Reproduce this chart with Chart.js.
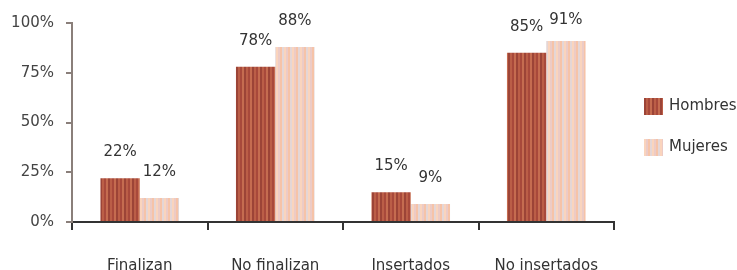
<!DOCTYPE html>
<html>
<head>
<meta charset="utf-8">
<script src="https://cdn.jsdelivr.net/npm/chart.js@4"></script>
<style>
  html, body { margin: 0; padding: 0; background: #fff; }
  #wrap { width: 737px; height: 270px; position: relative; }
</style>
</head>
<body>
<div id="wrap"><canvas id="chart"></canvas></div>
<script>
var categories = ['Finalizan', 'No finalizan', 'Insertados', 'No insertados'];
var hombres = [22, 78, 15, 85];
var mujeres = [12, 88, 9, 91];
var seriesNames = ['Hombres', 'Mujeres'];
var yTicks = [0, 25, 50, 75, 100];

var FONT = "'DejaVu Sans', sans-serif";

// vertical stripe fill like the old spreadsheet pattern
function stripes(cols) {
    var c = document.createElement('canvas');
    c.width = cols.length * 2;
    c.height = 4;
    var g = c.getContext('2d');
    cols.forEach(function (col, i) {
        g.fillStyle = col;
        g.fillRect(i * 2, 0, 2, 4);
    });
    return g.createPattern(c, 'repeat');
}

var fillH = stripes(['#a8493b', '#c56c50', '#9c4437', '#bb5e47']);
var fillM = stripes(['#f6c3a8', '#e4d6d6', '#fad4bd', '#eccbc6']);

var valueLabels = {
    id: 'valueLabels',
    afterDatasetsDraw: function (chart) {
        var ctx = chart.ctx;
        ctx.save();
        ctx.font = '15px ' + FONT;
        ctx.fillStyle = '#333';
        ctx.textAlign = 'center';
        ctx.textBaseline = 'middle';
        chart.data.datasets.forEach(function (ds, i) {
            chart.getDatasetMeta(i).data.forEach(function (bar, j) {
                var y = Math.max(bar.y - 26, 20);
                ctx.fillText(ds.data[j] + '%', bar.x, y);
            });
        });
        ctx.restore();
    }
};

var sideLegend = {
    id: 'sideLegend',
    afterDraw: function (chart) {
        var ctx = chart.ctx;
        var rows = [106, 147];
        ctx.save();
        ctx.font = '15px ' + FONT;
        ctx.textBaseline = 'middle';
        chart.data.datasets.forEach(function (ds, i) {
            ctx.fillStyle = ds.backgroundColor;
            ctx.fillRect(644, rows[i] - 8, 19, 17);
            ctx.fillStyle = '#333';
            ctx.fillText(ds.label, 669, rows[i]);
        });
        ctx.restore();
    }
};

new Chart(document.getElementById('chart'), {
    type: 'bar',
    data: {
        labels: categories,
        datasets: [
            { label: seriesNames[0], data: hombres, backgroundColor: fillH, borderWidth: 0 },
            { label: seriesNames[1], data: mujeres, backgroundColor: fillM, borderWidth: 0 }
        ]
    },
    options: {
        responsive: true,
        maintainAspectRatio: false,
        animation: false,
        layout: { padding: { top: 23, right: 123, left: 0, bottom: 0 } },
        datasets: { bar: { categoryPercentage: 0.58, barPercentage: 1 } },
        plugins: {
            legend: { display: false },
            tooltip: { enabled: false }
        },
        scales: {
            x: {
                afterFit: function (s) { s.height = 48; },
                grid: { drawOnChartArea: false, drawTicks: true, tickLength: 8, color: '#333', lineWidth: 2, offset: true },
                border: { color: '#333', width: 2 },
                ticks: { color: '#333', padding: 27, font: { family: FONT, size: 15 } }
            },
            y: {
                min: 0,
                max: 100,
                afterFit: function (s) { s.width = 72; },
                afterBuildTicks: function (s) { s.ticks = yTicks.map(function (v) { return { value: v }; }); },
                grid: { drawOnChartArea: false, drawTicks: true, tickLength: 6, color: '#8a7f7a', lineWidth: 2 },
                border: { color: '#8a7f7a', width: 2 },
                ticks: {
                    color: '#444',
                    padding: 12,
                    font: { family: FONT, size: 15 },
                    callback: function (v) { return v + '%'; }
                }
            }
        }
    },
    plugins: [valueLabels, sideLegend]
});
</script>
</body>
</html>
